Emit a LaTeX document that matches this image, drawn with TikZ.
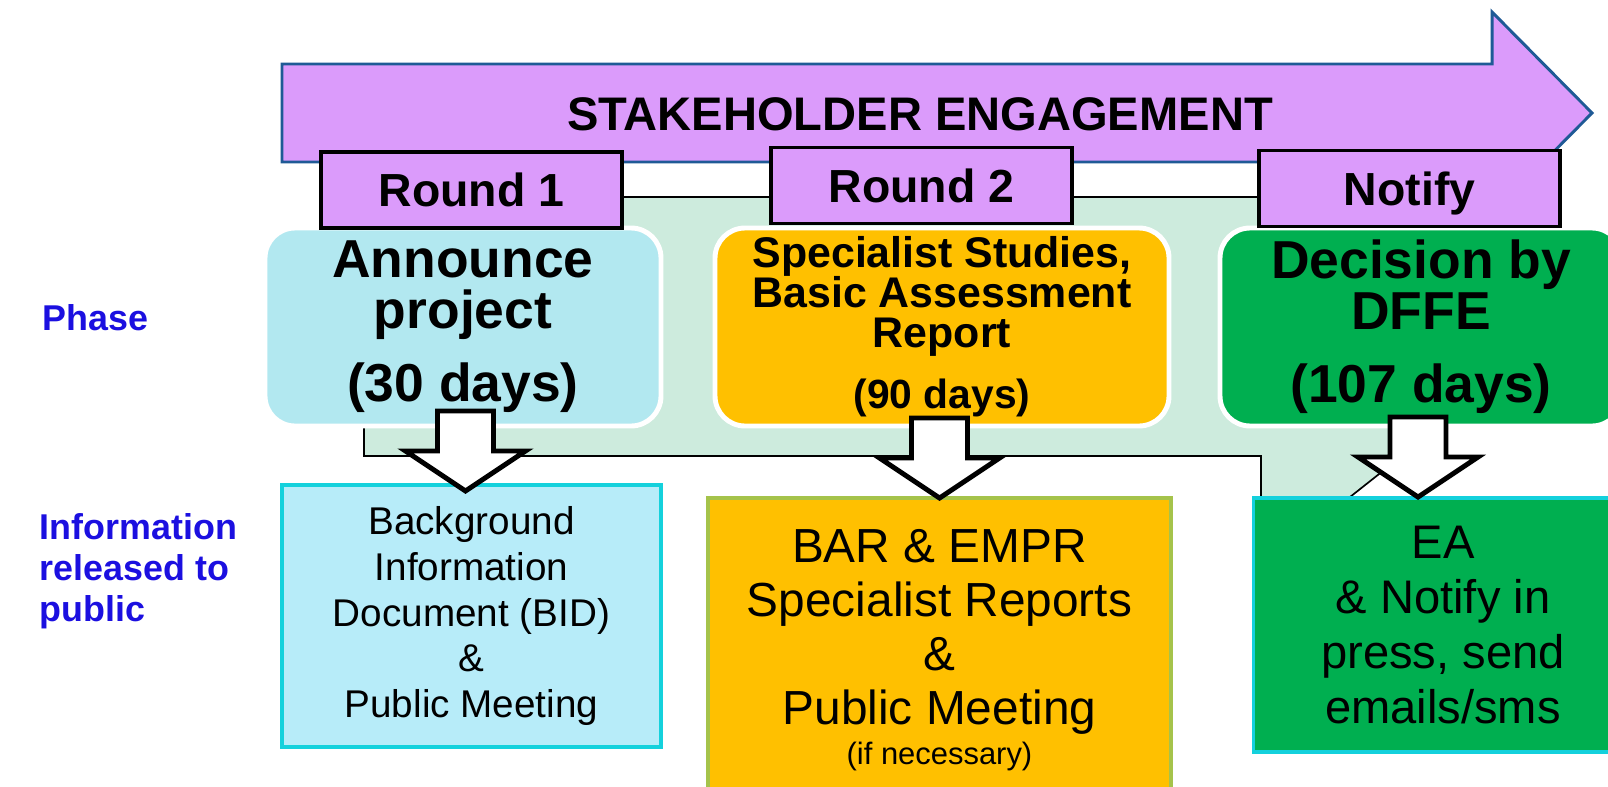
\documentclass[tikz,border=0pt]{standalone}
\usepackage{fontspec}
\setmainfont{Liberation Sans}
\usetikzlibrary{positioning,calc}
\definecolor{seLilac}{HTML}{DB9BFB}
\definecolor{seNavy}{HTML}{1F5A96}
\definecolor{seMint}{HTML}{CDEBDD}
\definecolor{seAqua}{HTML}{B2E8F0}
\definecolor{seAmber}{HTML}{FFC000}
\definecolor{seGreen}{HTML}{00AF50}
\definecolor{seSky}{HTML}{B7ECF9}
\definecolor{seCyan}{HTML}{14D1DC}
\definecolor{seOlive}{HTML}{A5C34B}
\definecolor{seBlue}{HTML}{1B0FE0}
\newlength{\unitpx}
\setlength{\unitpx}{0.025cm}

\begin{document}
\begin{tikzpicture}[
  x=0.025cm, y=-0.025cm,
  banner/.style={draw=seNavy, line width=2.1pt, fill=seLilac, line join=miter},
  round/.style={draw=black, line width=2.8pt, fill=seLilac, minimum width=301\unitpx, minimum height=76\unitpx, text depth=0pt, font=\fontsize{33}{33}\selectfont\bfseries},
  phase/.style={draw=white, line width=3.5pt, rounded corners=30\unitpx, minimum height=198\unitpx, align=center},
  bigtext/.style={font=\fontsize{38}{36.3}\selectfont\bfseries},
  info/.style={line width=2.8pt, align=center},
  blockarrow/.style={draw=black, fill=white, line width=3.5pt, line join=miter},
  sidelabel/.style={text=seBlue, align=left, anchor=west, font=\fontsize{25.5}{29.2}\selectfont\bfseries}
]
\useasboundingbox (0,0) rectangle (1608,787);

% Light green band behind the phases
\draw[fill=seMint, line width=1.2pt] (364,197) -- (1460,197) -- (1460,410) -- (1350,497) -- (1261,497) -- (1261,456) -- (364,456) -- cycle;

% Stakeholder engagement banner
\draw[banner] (282,64) -- (1492,64) -- (1492,12) -- (1592,113) -- (1492,214) -- (1492,162) -- (282,162) -- cycle;
\node[font=\fontsize{33.5}{33.5}\selectfont\bfseries] (stakeholder) at (920,114) {STAKEHOLDER ENGAGEMENT};

% Phases
\node[phase, bigtext, fill=seAqua, minimum width=396\unitpx] (announce) at (463,327) {Announce\\project\\[15.7pt](30 days)};
\node[phase, fill=seAmber, minimum width=454\unitpx, font=\fontsize{30.5}{28.5}\selectfont\bfseries] (specialist) at (942,327) {Specialist Studies,\\Basic Assessment\\Report\\[15pt]{\fontsize{29}{29}\selectfont(90 days)}};
\node[phase, bigtext, fill=seGreen, minimum width=402\unitpx] (decision) at (1421,327) {Decision by\\DFFE\\[15.7pt](107 days)};

% Rounds
\node[round] (round1) at (471.5,190) {Round 1};
\node[round] (round2) at (921.5,185.5) {Round 2};
\node[round] (notify) at (1409.5,188.5) {Notify};

% Information released
\node[info, draw=seCyan, fill=seSky, minimum width=379\unitpx, minimum height=262\unitpx, font=\fontsize{27.5}{32.7}\selectfont] (bid) at (471.5,616) {Background\\Information\\Document (BID)\\\&\\Public Meeting};
\node[info, draw=seOlive, fill=seAmber, minimum width=463\unitpx, minimum height=304\unitpx, font=\fontsize{34}{38.5}\selectfont] (bar) at (939.5,650) {BAR \& EMPR\\Specialist Reports\\\&\\Public Meeting\\[-10pt]{\fontsize{22}{22}\selectfont(if necessary)}};
\node[info, draw=seCyan, fill=seGreen, minimum width=379\unitpx, minimum height=254\unitpx, font=\fontsize{33.5}{39}\selectfont] (ea) at (1443,625) {EA\\\& Notify in\\press, send\\emails/sms};

% Block arrows from phase to release
\draw[blockarrow] ($(bid.north)+(-6,8)$) -- ++(-60,-40) -- ++(32,0) -- ++(0,-40) -- ++(56,0) -- ++(0,40) -- ++(32,0) -- cycle;
\draw[blockarrow] ($(bar.north)+(0,2)$) -- ++(-60,-40) -- ++(32,0) -- ++(0,-40) -- ++(56,0) -- ++(0,40) -- ++(32,0) -- cycle;
\draw[blockarrow] ($(ea.north)+(-25,1)$) -- ++(-60,-40) -- ++(32,0) -- ++(0,-40) -- ++(56,0) -- ++(0,40) -- ++(32,0) -- cycle;

% Row labels
\node[sidelabel] (phaselabel) at (38,318) {Phase};
\node[sidelabel] (infolabel) at (35,571) {Information\\released to\\public};

\end{tikzpicture}
\end{document}
